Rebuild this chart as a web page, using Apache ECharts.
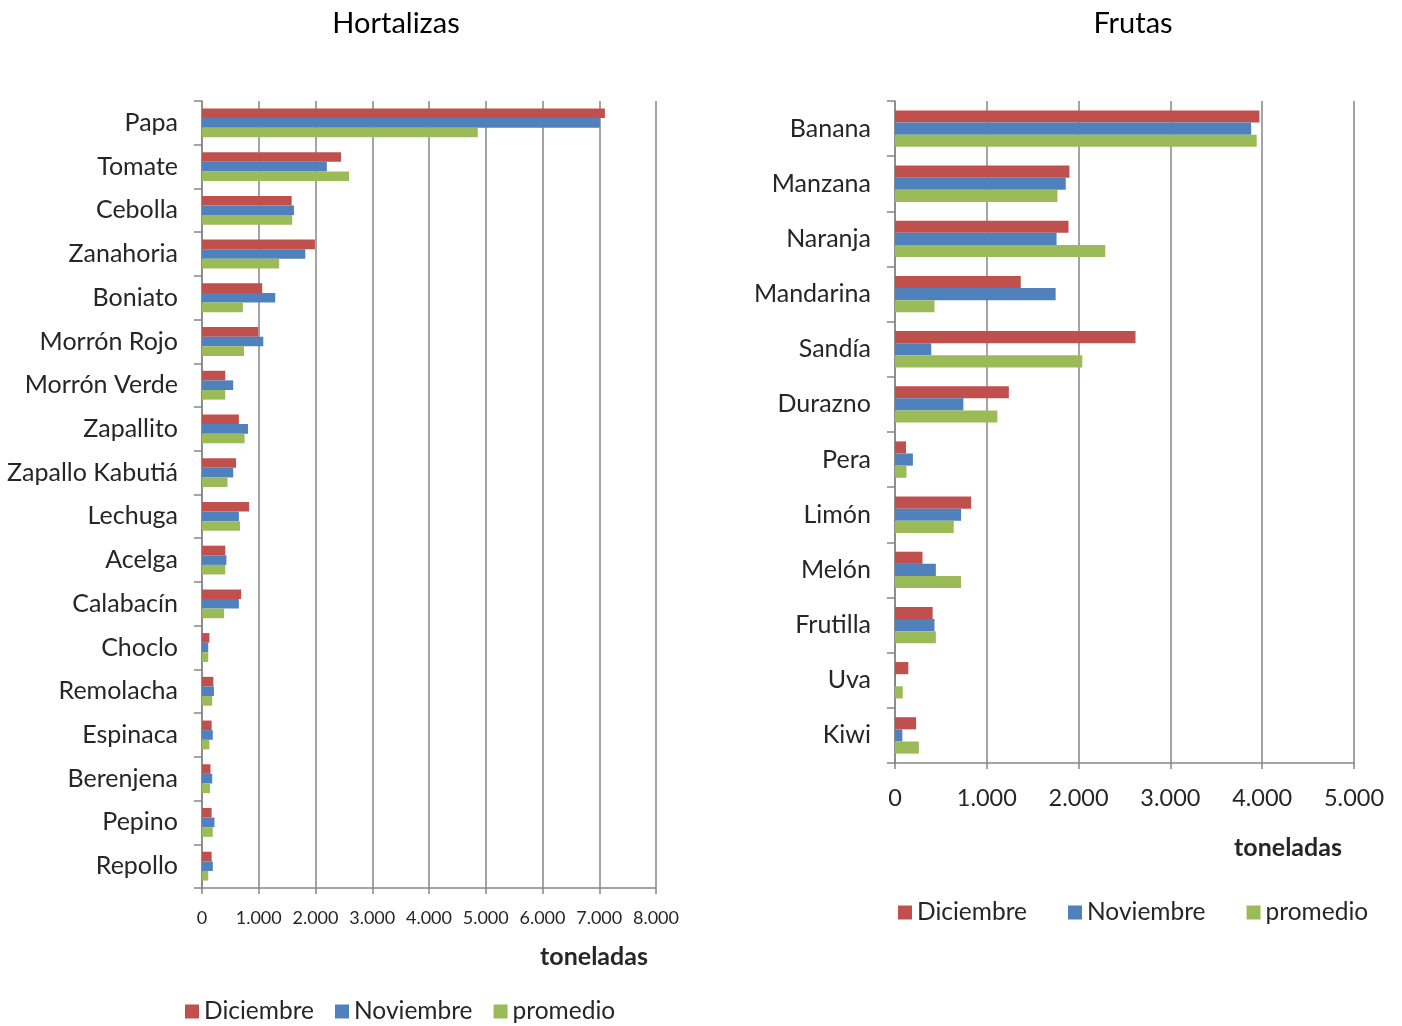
<!DOCTYPE html>
<html>
<head>
<meta charset="utf-8">
<script src="https://cdn.jsdelivr.net/npm/echarts@6/dist/echarts.min.js"></script>
<style>
html,body{margin:0;padding:0;background:#fff;}
#c{width:1402px;height:1026px;}
</style>
</head>
<body>
<div id="c"></div>
<script>
var hortCategories = ['Papa','Tomate','Cebolla','Zanahoria','Boniato','Morrón Rojo','Morrón Verde','Zapallito','Zapallo Kabutiá','Lechuga','Acelga','Calabacín','Choclo','Remolacha','Espinaca','Berenjena','Pepino','Repollo'];
var hortDiciembre = [7100,2450,1580,1990,1060,990,410,650,600,830,410,690,130,200,170,150,170,170];
var hortNoviembre = [7010,2200,1620,1820,1290,1080,550,810,550,650,430,650,110,210,190,180,220,190];
var hortPromedio  = [4860,2590,1590,1360,720,740,410,750,450,670,410,390,110,180,130,140,190,110];

var frutCategories = ['Banana','Manzana','Naranja','Mandarina','Sandía','Durazno','Pera','Limón','Melón','Frutilla','Uva','Kiwi'];
var frutDiciembre = [3970,1900,1890,1370,2620,1240,120,830,300,410,145,230];
var frutNoviembre = [3880,1860,1760,1750,395,745,195,720,445,430,7,80];
var frutPromedio  = [3940,1770,2290,430,2040,1115,125,640,720,445,85,260];

var seriesNames = ['Diciembre','Noviembre','promedio'];
var hortTicks = {min:0, max:8000, interval:1000};
var frutTicks = {min:0, max:5000, interval:1000};

var colors = ['#C0504D','#4F81BD','#9BBB59'];
var FONT = 'Lato, "Open Sans", sans-serif';
var TXT = '#262626';
var AX = '#868686';

function fmt(v){ return v === 0 ? '0' : (v/1000) + '.000'; }

function xAxisFor(grid, ticks, fontSize, margin){
  return {
    type:'value', gridIndex:grid, min:ticks.min, max:ticks.max, interval:ticks.interval,
    axisLine:{show:true, lineStyle:{color:AX, width:1.5}},
    axisTick:{show:true, length:6, lineStyle:{color:AX, width:1.5}},
    splitLine:{show:true, lineStyle:{color:AX, width:1.5}},
    axisLabel:{formatter:fmt, fontFamily:FONT, fontSize:fontSize, color:TXT, margin:margin}
  };
}
function yAxisFor(grid, cats){
  return {
    type:'category', gridIndex:grid, data:cats, inverse:true,
    axisLine:{show:true, lineStyle:{color:AX, width:1.5}},
    axisTick:{show:true, length:8, lineStyle:{color:AX, width:1.5}},
    axisLabel:{fontFamily:FONT, fontSize:25, color:TXT, margin:24}
  };
}
function bars(grid, arrs){
  return arrs.map(function(d,i){
    return {
      type:'bar', name:seriesNames[i], xAxisIndex:grid, yAxisIndex:grid, data:d,
      barGap:'0%', barCategoryGap:'34%',
      itemStyle:{color:colors[i]}, silent:true, animation:false
    };
  });
}

var chart = echarts.init(document.getElementById('c'));
chart.setOption({
  animation:false,
  color:colors,
  title:[
    {text:'Hortalizas', left:391, top:4, textAlign:'center', textStyle:{fontFamily:FONT, fontSize:29, fontWeight:'normal', color:'#000'}},
    {text:'Frutas', left:1128, top:4, textAlign:'center', textStyle:{fontFamily:FONT, fontSize:29, fontWeight:'normal', color:'#000'}},
    {text:'toneladas', left:589, top:939, textAlign:'center', textStyle:{fontFamily:FONT, fontSize:25, fontWeight:'bold', color:TXT}},
    {text:'toneladas', left:1283, top:830, textAlign:'center', textStyle:{fontFamily:FONT, fontSize:25, fontWeight:'bold', color:TXT}}
  ],
  legend:[
    {data:seriesNames, left:180, top:994, itemWidth:14, itemHeight:14, itemGap:21, icon:'rect',
     textStyle:{fontFamily:FONT, fontSize:24.5, color:TXT}},
    {data:seriesNames, left:893, top:895, itemWidth:14, itemHeight:14, itemGap:41, icon:'rect',
     textStyle:{fontFamily:FONT, fontSize:24.5, color:TXT}}
  ],
  grid:[
    {left:202, top:101, width:454, height:787},
    {left:895, top:101, width:459, height:662}
  ],
  xAxis:[ xAxisFor(0, hortTicks, 18, 21), xAxisFor(1, frutTicks, 23.5, 23) ],
  yAxis:[ yAxisFor(0, hortCategories), yAxisFor(1, frutCategories) ],
  series: bars(0,[hortDiciembre,hortNoviembre,hortPromedio]).concat(bars(1,[frutDiciembre,frutNoviembre,frutPromedio]))
});
</script>
</body>
</html>
